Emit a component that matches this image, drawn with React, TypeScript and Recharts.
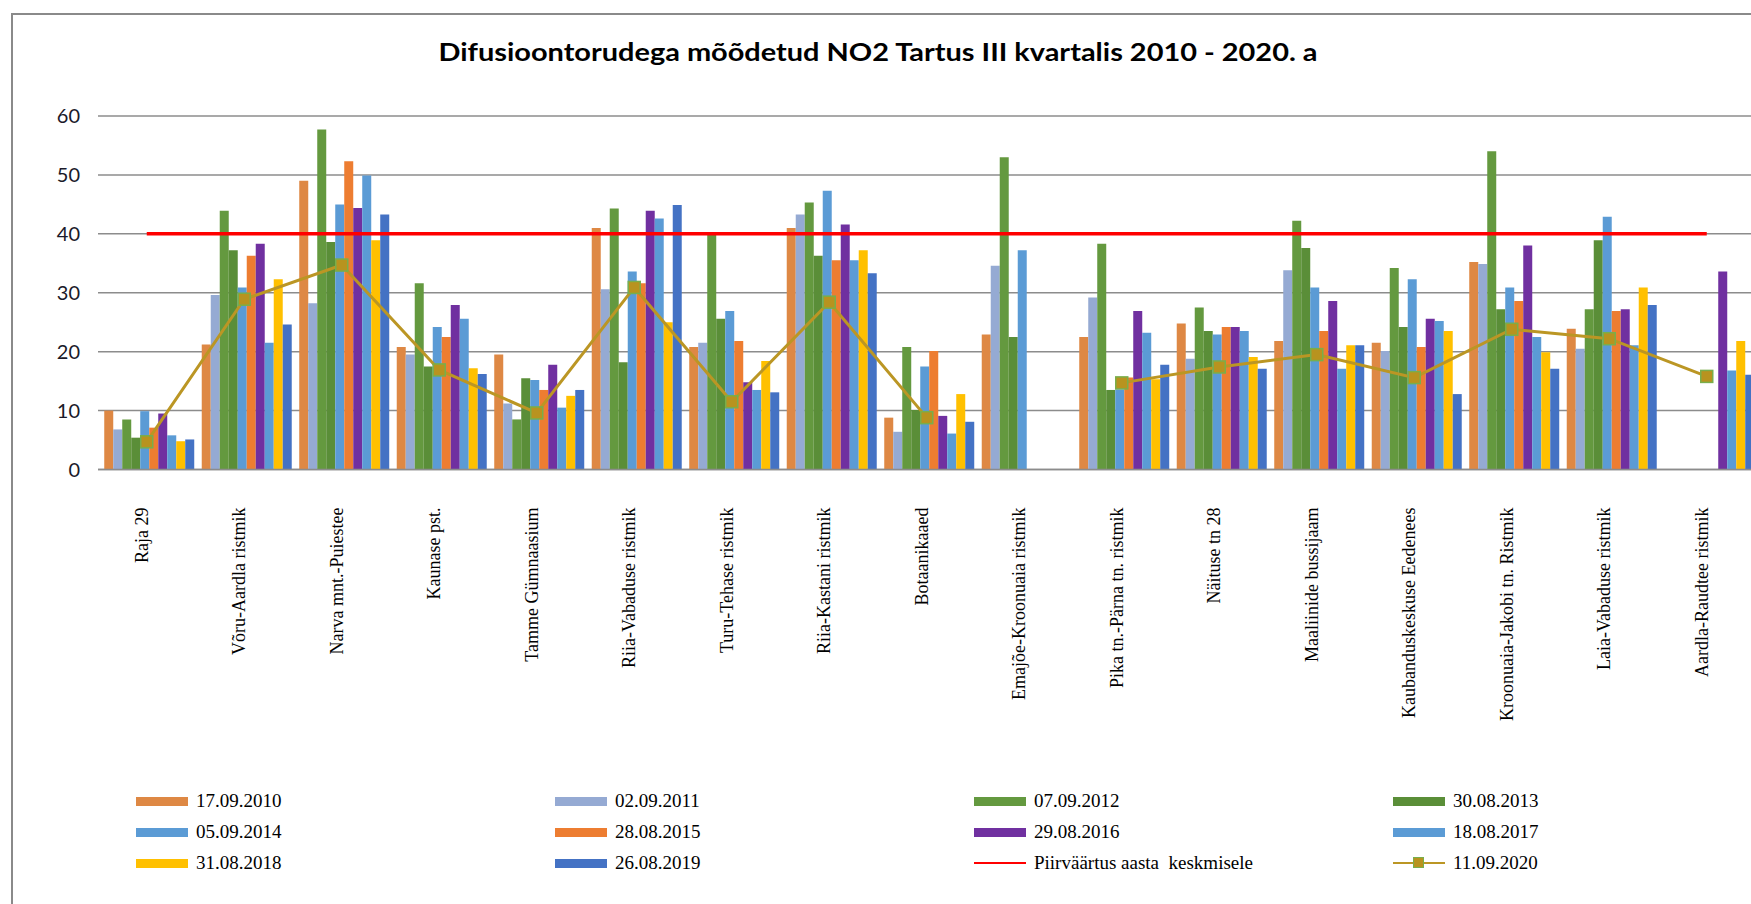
import {
  ComposedChart,
  Bar,
  Line,
  XAxis,
  YAxis,
  CartesianGrid,
} from "recharts";

const categories = [
  "Raja 29",
  "Võru-Aardla ristmik",
  "Narva mnt.-Puiestee",
  "Kaunase pst.",
  "Tamme Gümnaasium",
  "Riia-Vabaduse ristmik",
  "Turu-Tehase ristmik",
  "Riia-Kastani ristmik",
  "Botaanikaaed",
  "Emajõe-Kroonuaia ristmik",
  "Pika tn.-Pärna tn. ristmik",
  "Näituse tn 28",
  "Maaliinide bussijaam",
  "Kaubanduskeskuse Eedenees",
  "Kroonuaia-Jakobi tn. Ristmik",
  "Laia-Vabaduse ristmik",
  "Aardla-Raudtee ristmik",
];

const v2010 = [10, 21.2, 49.0, 20.8, 19.5, 41.0, 20.8, 41.0, 8.8, 22.9, 22.5, 24.8, 21.8, 21.5, 35.2, 23.9, null];
const v2011 = [6.8, 29.6, 28.2, 19.5, 11.2, 30.6, 21.5, 43.3, 6.4, 34.6, 29.2, 18.8, 33.8, 20.1, 34.9, 20.5, null];
const v2012 = [8.5, 43.9, 57.7, 31.6, 8.5, 44.3, 39.8, 45.3, 20.8, 53.0, 38.3, 27.5, 42.2, 34.2, 54.0, 27.2, null];
const v2013 = [5.4, 37.2, 38.6, 17.5, 15.5, 18.2, 25.6, 36.3, 10.1, 22.5, 13.5, 23.5, 37.6, 24.2, 27.2, 38.9, null];
const v2014 = [9.9, 30.9, 45.0, 24.2, 15.2, 33.6, 26.9, 47.3, 17.5, 37.2, 13.6, 22.9, 30.9, 32.3, 30.9, 42.9, null];
const v2015 = [7.1, 36.3, 52.3, 22.5, 13.5, 31.6, 21.8, 35.5, 20.1, null, 15.6, 24.2, 23.5, 20.8, 28.6, 26.9, null];
const v2016 = [9.5, 38.3, 44.4, 27.9, 17.8, 43.9, 14.8, 41.6, 9.1, null, 26.9, 24.2, 28.6, 25.6, 38.0, 27.2, 33.6];
const v2017 = [5.8, 21.5, 49.9, 25.6, 10.5, 42.6, 13.5, 35.5, 6.1, null, 23.2, 23.5, 17.1, 25.2, 22.5, 21.1, 16.8];
const v2018 = [4.8, 32.3, 38.9, 17.2, 12.5, 25.0, 18.4, 37.2, 12.8, null, 15.3, 19.1, 21.1, 23.5, 19.9, 30.9, 21.8];
const v2019 = [5.1, 24.6, 43.3, 16.2, 13.5, 44.9, 13.1, 33.3, 8.1, null, 17.8, 17.1, 21.1, 12.8, 17.1, 27.9, 16.1];
const v2020 = [4.7, 28.9, 34.7, 16.9, 9.6, 30.9, 11.5, 28.4, 8.8, null, 14.7, 17.4, 19.5, 15.6, 23.8, 22.2, 15.8];
const limitValue = 40;

const yTicks = [0, 10, 20, 30, 40, 50, 60];

const barSeries = [
  { key: "s2010", name: "17.09.2010", color: "#DE8844", values: v2010 },
  { key: "s2011", name: "02.09.2011", color: "#95AAD3", values: v2011 },
  { key: "s2012", name: "07.09.2012", color: "#64993F", values: v2012 },
  { key: "s2013", name: "30.08.2013", color: "#5A8E38", values: v2013 },
  { key: "s2014", name: "05.09.2014", color: "#5B9BD5", values: v2014 },
  { key: "s2015", name: "28.08.2015", color: "#ED7D31", values: v2015 },
  { key: "s2016", name: "29.08.2016", color: "#7030A0", values: v2016 },
  { key: "s2017", name: "18.08.2017", color: "#5B9BD5", values: v2017 },
  { key: "s2018", name: "31.08.2018", color: "#FFC000", values: v2018 },
  { key: "s2019", name: "26.08.2019", color: "#4472C4", values: v2019 },
];

const limitName = "Piirväärtus aasta  keskmisele";
const name2020 = "11.09.2020";
const lineColor = "#BB9624";
const markerEdge = "#79AE4B";

const data = categories.map((c, i) => {
  const row: any = { name: c, limit: limitValue, s2020: v2020[i] };
  barSeries.forEach((s) => {
    row[s.key] = s.values[i];
  });
  return row;
});

const legendItems = barSeries.map((s) => ({ name: s.name, color: s.color, kind: "bar" }));
legendItems.push({ name: limitName, color: "#FF0000", kind: "limit" });
legendItems.push({ name: name2020, color: lineColor, kind: "marker" });

function CatTick({ x, y, payload }: any) {
  return (
    <text
      transform={`translate(${x + 1},${y + 30}) rotate(-90)`}
      textAnchor="end"
      fontFamily="'Liberation Serif', serif"
      fontSize={18}
      fill="#000"
    >
      {payload.value}
    </text>
  );
}

function SquareDot({ cx, cy, index }: any) {
  if (cx == null || cy == null) return <g key={"d" + index} />;
  return (
    <rect
      key={"d" + index}
      x={cx - 6}
      y={cy - 6}
      width={12}
      height={12}
      fill="#B8931F"
      stroke={markerEdge}
      strokeWidth={1.5}
    />
  );
}

function LegendSwatch({ kind, color }: any) {
  if (kind === "bar")
    return <div style={{ width: 52, height: 9, background: color }} />;
  if (kind === "limit")
    return <div style={{ width: 52, height: 2, background: color }} />;
  return (
    <div style={{ width: 52, height: 12, position: "relative" }}>
      <div style={{ position: "absolute", left: 0, top: 5, width: 52, height: 2, background: color }} />
      <div
        style={{
          position: "absolute",
          left: 20,
          top: 0,
          width: 9,
          height: 9,
          background: "#B8931F",
          border: "1.5px solid " + markerEdge,
        }}
      />
    </div>
  );
}

export default function App() {
  return (
    <div
      style={{
        position: "fixed",
        left: 0,
        top: 0,
        width: 1751,
        height: 904,
        overflow: "hidden",
        background: "#fff",
      }}
    >
      <div
        style={{
          position: "absolute",
          left: 11,
          top: 13,
          width: 3000,
          height: 3000,
          borderLeft: "2px solid #8a8a8a",
          borderTop: "2px solid #8a8a8a",
        }}
      />
      <svg
        width={1751}
        height={100}
        style={{ position: "absolute", left: 0, top: 0 }}
      >
        <text
          x={878}
          y={61}
          textAnchor="middle"
          fontFamily="Lato, sans-serif"
          fontWeight="bold"
          fontSize={25}
          textLength={879}
          lengthAdjust="spacingAndGlyphs"
          fill="#000"
        >
          Difusioontorudega mõõdetud NO2 Tartus III kvartalis 2010 - 2020. a
        </text>
      </svg>
      <div style={{ position: "absolute", left: 0, top: 0 }}>
        <ComposedChart
          width={1800}
          height={904}
          data={data}
          margin={{ top: 116, right: 44.5, bottom: 0, left: 0 }}
          barGap={0}
          barCategoryGap="6.4%"
        >
          <CartesianGrid
            vertical={false}
            stroke="#8c8c8c"
            strokeWidth={1.5}
          />
          <XAxis
            dataKey="name"
            interval={0}
            height={434.5}
            axisLine={{ stroke: "#8c8c8c", strokeWidth: 1.5 }}
            tickLine={false}
            tick={<CatTick />}
          />
          <YAxis
            width={98}
            domain={[0, 60]}
            ticks={yTicks}
            axisLine={false}
            tickLine={false}
            tickMargin={12}
            tick={{ fontFamily: "Lato, sans-serif", fontSize: 20, fill: "#1a1a2a" }}
          />
          {barSeries.map((s) => (
            <Bar
              key={s.key}
              dataKey={s.key}
              name={s.name}
              fill={s.color}
              isAnimationActive={false}
            />
          ))}
          <Line
            dataKey="limit"
            name={limitName}
            stroke="#FF0000"
            strokeWidth={3.5}
            dot={false}
            activeDot={false}
            isAnimationActive={false}
          />
          <Line
            dataKey="s2020"
            name={name2020}
            stroke={lineColor}
            strokeWidth={3}
            dot={<SquareDot />}
            activeDot={false}
            isAnimationActive={false}
          />
        </ComposedChart>
      </div>
      <div
        style={{
          position: "absolute",
          left: 136,
          top: 790,
          display: "grid",
          gridTemplateColumns: "419px 419px 419px 419px",
          rowGap: 9,
          fontFamily: "'Liberation Serif', serif",
          fontSize: 19,
          color: "#000",
        }}
      >
        {legendItems.map((it) => (
          <div key={it.name} style={{ display: "flex", alignItems: "center", height: 22 }}>
            <LegendSwatch kind={it.kind} color={it.color} />
            <span style={{ marginLeft: 8, whiteSpace: "pre" }}>{it.name}</span>
          </div>
        ))}
      </div>
    </div>
  );
}
